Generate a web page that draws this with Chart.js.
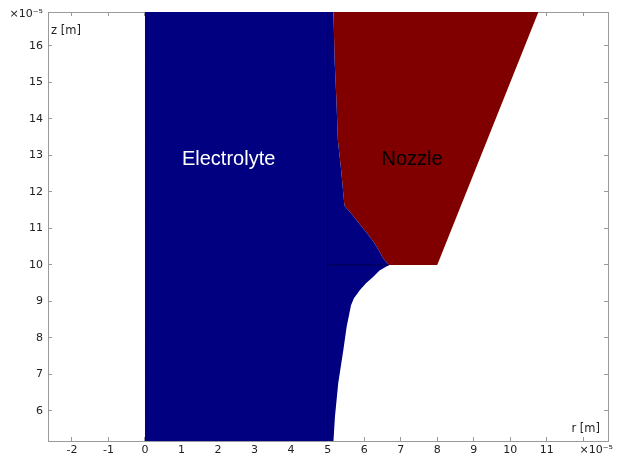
<!DOCTYPE html>
<html><head><meta charset="utf-8">
<script src="https://cdn.jsdelivr.net/npm/chart.js@4/dist/chart.umd.min.js"></script>
<style>html,body{margin:0;padding:0;background:#fff}canvas{display:block}</style>
</head><body>
<canvas id="c" width="618" height="466"></canvas>
<script>
// ---- data (units of 1e-5 m) ----
const xTickValues = [-2,-1,0,1,2,3,4,5,6,7,8,9,10,11,12,12.35];
const xTickLabels = ['-2','-1','0','1','2','3','4','5','6','7','8','9','10','11','','×10⁻⁵'];
const yTickValues = [6,7,8,9,10,11,12,13,14,15,16,16.87];
const yTickLabels = ['6','7','8','9','10','11','12','13','14','15','16','×10⁻⁵'];

// Electrolyte right boundary, r as a function of z (sorted by z)
const electrolyteZ = [5.178,5.84,6.76,7.67,7.95,8.31,8.7,8.9,9.09,9.32,9.5,9.68,9.85,10.0,10.18,10.4,10.64,10.87,11.10,11.37,11.62,12.6,13.42,14.52,15.62,16.93];
const electrolyteR = [5.16,5.20,5.29,5.43,5.47,5.52,5.60,5.64,5.72,5.89,6.05,6.25,6.42,6.68,6.52,6.40,6.25,6.08,5.89,5.68,5.46,5.37,5.28,5.24,5.19,5.16];

// Nozzle lower boundary, z as a function of r (sorted by r)
const nozzleR = [5.16,5.19,5.24,5.28,5.37,5.46,5.68,5.89,6.08,6.25,6.40,6.52,6.68,8.0,10.77];
const nozzleZ = [16.93,15.62,14.52,13.42,12.6,11.62,11.37,11.10,10.87,10.64,10.4,10.18,10.0,10.0,16.93];

// internal boundary lines
const verticalLineR = [5,5];
const verticalLineZ = [5.178,16.93];
const horizontalLineR = [5,6.68];
const horizontalLineZ = [10,10];

const domainLabels = ['Electrolyte','Nozzle'];
const axisLabels = ['r [m]','z [m]'];

// ---- chart ----
const zip = (xs, ys) => xs.map((x, i) => ({x: x, y: ys[i]}));
const X_MIN = -2.655, X_MAX = 12.675, Y_MIN = 5.178, Y_MAX = 16.93;

Chart.defaults.font.family = '"DejaVu Sans", sans-serif';
Chart.defaults.font.size = 11;
Chart.defaults.color = '#222';

const tickGrey = '#9a9a9a';
function tickColorFor(extra){ return ctx => (ctx.tick && ctx.tick.value === extra) ? 'rgba(0,0,0,0)' : tickGrey; }
function noPad(s){ s.paddingTop = 0; s.paddingBottom = 0; s.paddingLeft = 0; s.paddingRight = 0; }

const textPlugin = {
  id: 'domainText',
  afterDatasetsDraw(chart) {
    const {ctx, chartArea, scales} = chart;
    ctx.save();
    ctx.textBaseline = 'middle';
    ctx.textAlign = 'center';
    ctx.font = '20px "Liberation Sans", Arial, sans-serif';
    ctx.fillStyle = '#ffffff';
    ctx.fillText(domainLabels[0], scales.x.getPixelForValue(2.29), scales.y.getPixelForValue(12.88));
    ctx.fillStyle = '#000000';
    ctx.fillText(domainLabels[1], scales.x.getPixelForValue(7.31), scales.y.getPixelForValue(12.88));
    ctx.font = '11.5px "DejaVu Sans", sans-serif';
    ctx.fillStyle = '#222';
    ctx.textAlign = 'left';
    ctx.fillText(axisLabels[1], chartArea.left + 3, chartArea.top + 19);
    ctx.textAlign = 'right';
    ctx.fillText(axisLabels[0], chartArea.right - 8, chartArea.bottom - 12);
    ctx.restore();
  }
};

new Chart(document.getElementById('c'), {
  type: 'line',
  data: {
    datasets: [
      { label: 'vline', data: zip(verticalLineR, verticalLineZ), borderColor: '#000048', borderWidth: 1, pointRadius: 0, fill: false, order: 0 },
      { label: 'hline', data: zip(horizontalLineR, horizontalLineZ), borderColor: '#000048', borderWidth: 1, pointRadius: 0, fill: false, order: 0 },
      { label: 'Electrolyte', indexAxis: 'y', data: zip(electrolyteR, electrolyteZ), borderColor: '#000080', backgroundColor: '#000080', borderWidth: 0, pointRadius: 0, fill: 'origin', order: 1 },
      { label: 'Nozzle', data: zip(nozzleR, nozzleZ), borderColor: '#800000', backgroundColor: '#800000', borderWidth: 0, pointRadius: 0, fill: 'end', order: 2 }
    ]
  },
  options: {
    responsive: false,
    animation: false,
    devicePixelRatio: 1,
    layout: { padding: 0 },
    plugins: { legend: { display: false }, tooltip: { enabled: false } },
    elements: { line: { tension: 0 } },
    scales: {
      x: {
        type: 'linear', position: 'bottom', min: X_MIN, max: X_MAX,
        afterBuildTicks: s => { s.ticks = xTickValues.map(v => ({value: v})); },
        afterFit: s => { s.height = 25; noPad(s); },
        ticks: { padding: 7, maxRotation: 0, autoSkip: false, callback: (v) => xTickLabels[xTickValues.indexOf(v)] },
        grid: { drawOnChartArea: false, tickLength: -4, tickColor: tickColorFor(12.35) },
        border: { color: tickGrey, width: 1 }
      },
      x2: {
        type: 'linear', position: 'top', min: X_MIN, max: X_MAX,
        afterBuildTicks: s => { s.ticks = xTickValues.filter(v => v !== 12.35).map(v => ({value: v})); },
        afterFit: s => { s.height = 12; noPad(s); },
        ticks: { display: false },
        grid: { drawOnChartArea: false, tickLength: -4, tickColor: tickGrey },
        border: { color: tickGrey, width: 1 }
      },
      y: {
        type: 'linear', position: 'left', min: Y_MIN, max: Y_MAX,
        afterBuildTicks: s => { s.ticks = yTickValues.map(v => ({value: v})); },
        afterFit: s => { s.width = 48; noPad(s); },
        ticks: { padding: 9, autoSkip: false, callback: (v) => yTickLabels[yTickValues.indexOf(v)] },
        grid: { drawOnChartArea: false, tickLength: -4, tickColor: tickColorFor(16.87) },
        border: { color: tickGrey, width: 1 }
      },
      y2: {
        type: 'linear', position: 'right', min: Y_MIN, max: Y_MAX,
        afterBuildTicks: s => { s.ticks = yTickValues.filter(v => v !== 16.87).map(v => ({value: v})); },
        afterFit: s => { s.width = 10; noPad(s); },
        ticks: { display: false },
        grid: { drawOnChartArea: false, tickLength: -4, tickColor: tickGrey },
        border: { color: tickGrey, width: 1 }
      }
    }
  },
  plugins: [textPlugin]
});
</script>
</body></html>
